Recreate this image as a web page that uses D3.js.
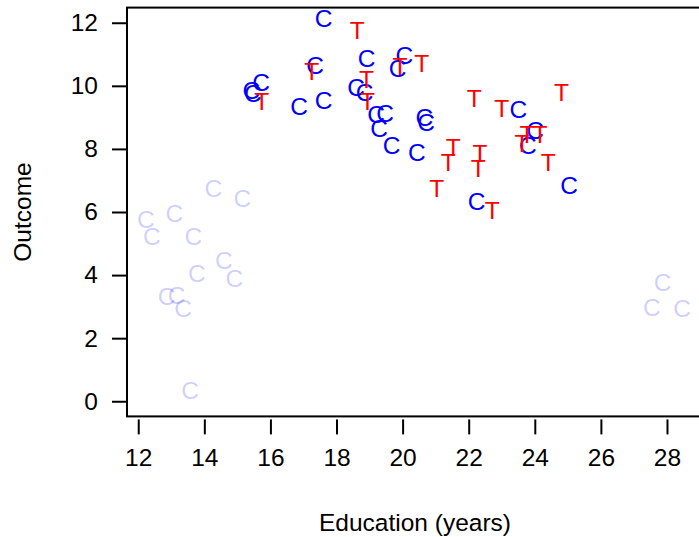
<!DOCTYPE html>
<html>
<head>
<meta charset="utf-8">
<script src="https://cdn.jsdelivr.net/npm/d3@7"></script>
<style>
	body { margin: 0; background: #fff; }
	svg { display: block; font-family: 'Liberation Sans', Arial, sans-serif; }
</style>
</head>
<body>
<div id="chart"></div>
<script>
// faded control points (outside the matched region)
const fadedEdu = [12.23, 12.41, 13.09, 13.67, 14.27, 15.15, 14.59, 13.77, 14.91, 12.86, 13.16, 13.36, 13.57, 27.87, 27.54, 28.46]
const fadedOut = [5.77, 5.22, 5.96, 5.22, 6.75, 6.45, 4.48, 4.06, 3.91, 3.32, 3.37, 2.95, 0.36, 3.79, 2.97, 2.95]

// controls (C)
const ctrlEdu = [17.61, 15.42, 15.47, 15.72, 16.87, 17.61, 17.35, 18.91, 20.05, 19.85, 18.59, 18.85,
	19.20, 19.47, 19.29, 19.67, 20.66, 20.71, 20.43, 23.50, 24.01, 23.79, 25.04, 22.24]
const ctrlOut = [12.14, 9.87, 9.77, 10.12, 9.36, 9.55, 10.66, 10.87, 10.98, 10.55, 9.96, 9.80,
	9.11, 9.13, 8.65, 8.12, 9.02, 8.85, 7.90, 9.26, 8.60, 8.12, 6.86, 6.33]

// treated (T)
const trtEdu = [18.63, 17.25, 15.74, 18.91, 19.92, 20.58, 18.94, 22.17, 23.00, 24.81, 23.76, 24.16,
	23.61, 24.41, 21.53, 21.38, 22.34, 22.29, 21.03, 22.71]
const trtOut = [11.77, 10.45, 9.50, 10.22, 10.61, 10.71, 9.50, 9.60, 9.29, 9.80, 8.48, 8.48,
	8.19, 7.59, 8.07, 7.59, 7.87, 7.39, 6.75, 6.06]

const xTicks = [12, 14, 16, 18, 20, 22, 24, 26, 28]
const yTicks = [0, 2, 4, 6, 8, 10, 12]

const w = 699, h = 537
const fs = 24.5

const $svg = d3.select('#chart').append('svg')
	.attr('width', w)
	.attr('height', h)

// plot region (right edge falls just outside the picture)
const pLeft = 127, pRight = 703, pTop = 7.6, pBottom = 416.4

const x = d3.scaleLinear()
	.domain([11.66, 29.09])
	.range([pLeft, pRight])

const y = d3.scaleLinear()
	.domain([-0.48, 12.48])
	.range([pBottom, pTop])

$svg.append('clipPath')
	.attr('id', 'plot-clip')
	.append('rect')
	.attr('x', pLeft).attr('y', pTop)
	.attr('width', pRight - pLeft).attr('height', pBottom - pTop)

const $pts = $svg.append('g')
	.attr('clip-path', 'url(#plot-clip)')
	.style('font-size', `${fs}px`)
	.attr('text-anchor', 'middle')

function letters(xs, ys, label, colour) {
	$pts.append('g')
		.selectAll('text')
		.data(xs.map((d, i) => [d, ys[i]]))
		.enter()
		.append('text')
		.attr('x', d => x(d[0]))
		.attr('y', d => y(d[1]))
		.attr('dy', '0.36em')
		.attr('fill', colour)
		.text(label)
}

letters(fadedEdu, fadedOut, 'C', 'rgba(0,0,255,0.2)')
letters(ctrlEdu, ctrlOut, 'C', '#0000ff')
letters(trtEdu, trtOut, 'T', '#ff0000')

// box
$svg.append('rect')
	.attr('x', pLeft).attr('y', pTop)
	.attr('width', pRight - pLeft).attr('height', pBottom - pTop)
	.attr('fill', 'none')
	.attr('stroke', '#000')
	.attr('stroke-width', 2)

// axes, R style
const $xAxis = $svg.append('g')
	.attr('transform', `translate(0, ${pBottom + 3})`)
	.call(d3.axisBottom(x).tickValues(xTicks).tickSize(15).tickPadding(14))
$xAxis.select('.domain').remove()

const $yAxis = $svg.append('g')
	.attr('transform', `translate(${pLeft}, 0)`)
	.call(d3.axisLeft(y).tickValues(yTicks).tickSize(15).tickPadding(14))
$yAxis.select('.domain').remove()

$svg.selectAll('.tick line')
	.attr('stroke', '#000')
	.attr('stroke-width', 2)

$svg.selectAll('.tick text')
	.style('font-family', 'Liberation Sans, Arial, sans-serif')
	.style('font-size', `${fs}px`)
	.attr('fill', '#000')

// axis titles
$svg.append('text')
	.attr('x', (pLeft + pRight) / 2)
	.attr('y', 531)
	.attr('text-anchor', 'middle')
	.style('font-size', `${fs}px`)
	.text('Education (years)')

$svg.append('text')
	.attr('transform', `translate(31, ${(pTop + pBottom) / 2}) rotate(-90)`)
	.attr('text-anchor', 'middle')
	.style('font-size', `${fs}px`)
	.text('Outcome')
</script>
</body>
</html>
